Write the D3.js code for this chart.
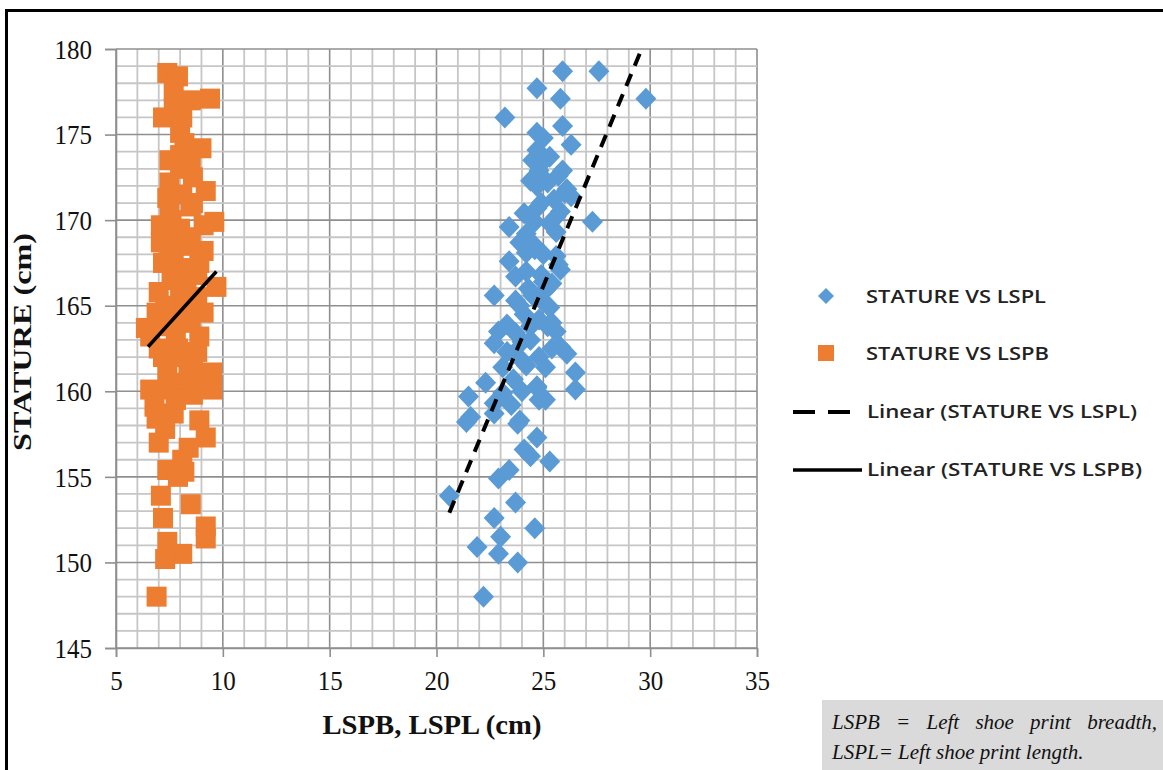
<!DOCTYPE html>
<html><head><meta charset="utf-8">
<script src="https://cdn.jsdelivr.net/npm/d3@7/dist/d3.min.js"></script>
<style>body{margin:0;background:#fff}svg{display:block}</style>
</head><body>
<svg id="c" width="1163" height="770"></svg>
<script>
// ---- data ----
const lsplX = [25.9,27.6,24.7,25.8,23.2,29.8,25.9,24.7,26.3,24.7,25.3,24.5,24.8,25.7,24.4,24.7,26.1,26.3,25.5,27.3,24.7,24.5,23.4,25.3,24.2,25.6,23.9,
  23.4,24.2,25.6,25.8,23.7,22.7,25.1,23.7,25.3,24.1,24.8,22.9,25.6,23.7,22.7,24.4,26.1,24.8,23.6,25.1,23.1,26.5,26.5,24.7,24.8,22.3,21.5,23.1,21.6,22.7,23.5,23.9,22.7,24.7,
  20.6,21.4,23.8,24.1,24.4,25.3,23.4,22.9,23.7,22.7,24.6,23.0,21.9,22.9,23.8,22.2,25.8,24.7,25.1,24.3,25.0,24.0,25.4,24.6,23.3,
  25.0,25.2,25.9,24.9,25.8,24.1,24.6,25.0,24.2,24.9,25.4,24.5,23.9,25.0,24.4,25.2,24.0,25.4,23.3,24.2,23.6,24.0,25.7,24.6,25.6,26.0,24.9];
const lsplY = [178.7,178.7,177.7,177.1,176.0,177.1,175.5,175.1,174.4,174.1,173.7,173.5,172.9,172.6,172.3,172.0,171.8,171.4,171.2,169.9,170.7,170.0,169.6,169.8,169.2,169.3,168.7,
  167.6,168.1,167.9,167.1,166.7,165.6,165.9,165.3,164.9,164.5,164.2,163.5,163.5,163.4,162.8,163.0,162.2,162.0,162.2,161.4,161.4,161.1,160.1,160.3,159.5,160.5,159.7,159.9,158.5,159.3,159.2,158.3,158.7,157.3,
  153.9,158.2,158.1,156.6,156.2,155.9,155.4,154.9,153.5,152.6,152.0,151.5,150.9,150.5,150.0,148.0,162.6,160.2,159.5,166.0,166.4,161.8,164.0,168.3,163.9,
  174.8,172.2,172.9,171.0,170.5,170.4,168.5,168.0,167.0,166.8,166.3,165.6,165.0,165.2,163.8,163.8,162.9,162.5,162.3,161.5,160.7,160.0,167.4,169.9,170.2,171.6,173.3];
const lspbX = [7.4,7.9,7.7,8.5,9.4,7.2,8.0,9.0,8.0,8.0,7.5,7.4,8.1,9.2,7.1,7.1,8.0,9.6,9.1,7.7,9.1,8.5,9.7,6.9,7.7,9.1,6.4,
  6.6,8.9,7.8,7.2,8.6,7.4,9.5,9.5,6.6,7.5,8.1,6.8,6.9,7.7,8.9,9.2,7.0,8.4,8.1,7.4,8.2,7.1,8.5,7.2,9.2,9.2,7.4,8.1,7.3,6.9,
  8.3,7.6,8.8,8.2,7.5,8.5,8.6,8.2,7.9,8.4,7.8,8.6,7.6,8.3,7.2,8.0,
  7.5,8.5,7.5,8.5,8.0,7.2,8.8,7.8,8.5,7.0,8.0,8.8,9.0,7.8,7.3,7.9,8.8,7.6,8.6,8.3,7.7,8.1,7.3,8.9,7.0,8.4];
const lspbY = [178.6,178.4,177.6,177.0,177.1,176.0,175.1,174.2,173.8,173.0,172.2,171.3,171.5,171.7,169.7,168.7,169.5,169.9,169.7,168.0,168.2,167.2,166.1,164.6,164.5,164.6,163.7,
  163.2,163.2,163.0,162.0,161.8,161.0,161.1,160.1,160.1,160.1,160.5,159.1,158.4,158.7,158.3,157.3,157.0,156.7,156.0,155.4,155.3,153.9,153.4,152.6,152.1,151.4,151.2,150.5,150.2,148.0,
  166.0,166.5,165.5,165.0,170.5,170.8,172.5,174.5,162.5,161.0,159.5,159.8,167.5,168.5,163.8,165.8,
  173.5,173.5,168.5,168.8,167.0,167.5,166.8,164.0,164.0,162.5,162.0,162.3,160.8,159.5,157.8,155.0,160.2,170.0,171.0,169.0,176.5,176.0,165.0,167.5,165.8,161.5];
const lsplTrendX = [20.6, 29.6];
const lsplTrendY = [152.9, 180.0];
const lspbTrendX = [6.5, 9.7];
const lspbTrendY = [162.6, 167.0];
const xTicks = [5,10,15,20,25,30,35];
const yTicks = [145,150,155,160,165,170,175,180];
const legendLabels = ["STATURE VS LSPL","STATURE VS LSPB","Linear  (STATURE VS LSPL)","Linear  (STATURE VS LSPB)"];
const noteLines = ["LSPB = Left shoe print breadth,","LSPL= Left shoe print length."];

const svg = d3.select("#c");
const x = d3.scaleLinear().domain([5,35]).range([116,757]);
const y = d3.scaleLinear().domain([145,180]).range([648,49]);

// frame
svg.append("path").attr("d","M6.5,770 V10.5 H1163").attr("fill","none").attr("stroke","#000").attr("stroke-width",3);

// grid
const g = svg.append("g");
const minorX = d3.range(5,36,1), minorY = d3.range(145,181,1);
g.selectAll(".vx").data(minorX).join("line")
  .attr("x1",d=>x(d)).attr("x2",d=>x(d)).attr("y1",y(180)).attr("y2",y(145))
  .attr("stroke",d=>d%5===0?"#8f8f8f":"#c6c6c6").attr("stroke-width",d=>d%5===0?1.6:1.8);
g.selectAll(".hy").data(minorY).join("line")
  .attr("y1",d=>y(d)).attr("y2",d=>y(d)).attr("x1",x(5)).attr("x2",x(35))
  .attr("stroke",d=>d%5===0?"#8f8f8f":"#c6c6c6").attr("stroke-width",d=>d%5===0?1.6:1.8);

// axes
const xAxis = svg.append("g").attr("transform",`translate(0,${y(145)})`)
  .call(d3.axisBottom(x).tickValues(xTicks).tickSize(9).tickPadding(11));
const yAxis = svg.append("g").attr("transform",`translate(${x(5)},0)`)
  .call(d3.axisLeft(y).tickValues(yTicks).tickSize(11).tickPadding(13));
[xAxis,yAxis].forEach(a=>{
  a.select(".domain").attr("stroke","#8f8f8f").attr("stroke-width",1.6);
  a.selectAll(".tick line").attr("stroke","#8f8f8f").attr("stroke-width",1.6);
  a.selectAll("text").attr("font-family","'Liberation Serif', serif").attr("font-size",28).attr("fill","#111")
    .attr("textLength",function(){return this.textContent.length*12.5;}).attr("lengthAdjust","spacingAndGlyphs");
});
xAxis.selectAll("text").attr("dy","0.8em");
yAxis.selectAll("text").attr("dy","0.33em");

// axis titles
svg.append("text").attr("x",432).attr("y",734).attr("text-anchor","middle")
  .attr("font-family","'Liberation Serif', serif").attr("font-weight","bold").attr("font-size",27)
  .attr("textLength",219).attr("lengthAdjust","spacingAndGlyphs").attr("fill","#111").text("LSPB, LSPL (cm)");
svg.append("text").attr("transform","translate(31,342) rotate(-90)").attr("text-anchor","middle")
  .attr("font-family","'Liberation Serif', serif").attr("font-weight","bold").attr("font-size",25)
  .attr("textLength",218).attr("lengthAdjust","spacingAndGlyphs").attr("fill","#111").text("STATURE (cm)");

// series
const orange = "#ED7D31", blue = "#5B9BD5";
const sq = 20;
svg.append("g").selectAll("rect").data(d3.range(lspbX.length)).join("rect")
  .attr("x",i=>x(lspbX[i])-sq/2).attr("y",i=>y(lspbY[i])-sq/2).attr("width",sq).attr("height",sq).attr("fill",orange);
const diamond = (cx,cy,w,h)=>`M${cx},${cy-h}L${cx+w},${cy}L${cx},${cy+h}L${cx-w},${cy}Z`;
svg.append("g").selectAll("path").data(d3.range(lsplX.length)).join("path")
  .attr("d",i=>diamond(x(lsplX[i]),y(lsplY[i]),10.5,11)).attr("fill",blue);

// trendlines
const line = d3.line().x(d=>x(d[0])).y(d=>y(d[1]));
svg.append("path").attr("d",line(d3.zip(lsplTrendX,lsplTrendY))).attr("stroke","#000").attr("stroke-width",4)
  .attr("stroke-dasharray","13,9").attr("fill","none");
svg.append("path").attr("d",line(d3.zip(lspbTrendX,lspbTrendY))).attr("stroke","#000").attr("stroke-width",3.5).attr("fill","none");

// legend
const lg = svg.append("g");
const ly = [297,354,412,470], lw = [180,183,270,275];
lg.append("path").attr("d",diamond(826,ly[0]-1,8,8)).attr("fill",blue);
lg.append("rect").attr("x",818).attr("y",ly[1]-9).attr("width",16).attr("height",16).attr("fill",orange);
lg.append("line").attr("x1",793).attr("x2",850).attr("y1",ly[2]).attr("y2",ly[2]).attr("stroke","#000").attr("stroke-width",4).attr("stroke-dasharray","22,13");
lg.append("line").attr("x1",793).attr("x2",862).attr("y1",ly[3]).attr("y2",ly[3]).attr("stroke","#000").attr("stroke-width",3.5);
lg.selectAll("text").data(legendLabels).join("text")
  .attr("x",(d,i)=>i<2?866:867).attr("y",(d,i)=>ly[i]+6)
  .attr("font-family","'Open Sans', sans-serif").attr("font-weight",600).attr("font-size",18)
  .attr("textLength",(d,i)=>lw[i]).attr("lengthAdjust","spacingAndGlyphs").attr("fill","#222").text(d=>d);

// note box
svg.append("rect").attr("x",822).attr("y",700).attr("width",341).attr("height",70).attr("fill","#dadada");
const noteFont = t=>t.attr("font-family","'Liberation Serif', serif").attr("font-style","italic").attr("font-size",21).attr("fill","#111");
// first line: justified word by word between x=832 and x=1157
const words = noteLines[0].split(" ");
const wsel = svg.append("g").selectAll("text").data(words).join("text").call(noteFont).attr("y",729).text(d=>d);
const widths = wsel.nodes().map(n=>n.getComputedTextLength());
const gap = (325 - d3.sum(widths)) / (words.length - 1);
let cx = 832;
wsel.attr("x",(d,i)=>{const v=cx; cx += widths[i] + gap; return v;});
svg.append("text").call(noteFont).attr("x",832).attr("y",759).text(noteLines[1]);
</script>
</body></html>
